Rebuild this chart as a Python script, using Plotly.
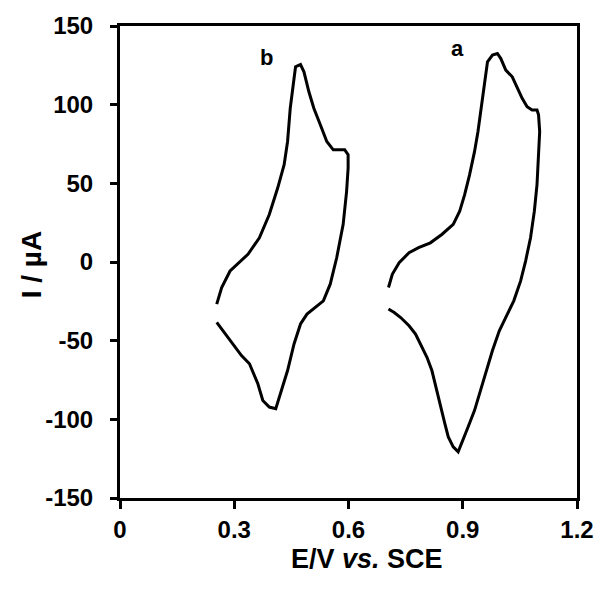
import plotly.graph_objects as go

# Curve b (scan 0.25 -> 0.60 V)
b_E = [0.254, 0.267, 0.289, 0.336, 0.366, 0.392, 0.414, 0.431, 0.440, 0.447, 0.457, 0.461,
       0.474, 0.483, 0.496, 0.509, 0.526, 0.543, 0.560, 0.590, 0.599, 0.599, 0.595, 0.586,
       0.569, 0.552, 0.534, 0.491, 0.474, 0.457, 0.440, 0.422, 0.409, 0.392, 0.375, 0.362,
       0.340, 0.319, 0.284, 0.254]
b_I = [-26.8, -16.2, -5.7, 4.9, 15.4, 30.2, 47.0, 61.8, 76.6, 97.7, 116.6, 124.1,
       125.5, 120.9, 108.2, 97.7, 87.2, 76.6, 71.3, 71.3, 68.2, 59.7, 44.9, 23.9,
       2.7, -14.1, -24.7, -33.1, -39.4, -52.1, -69.0, -83.7, -93.2, -92.2, -88.0, -77.4,
       -64.7, -59.5, -47.9, -38.4]

# Curve a (scan 0.70 -> 1.10 V)
a_E = [0.705, 0.715, 0.733, 0.759, 0.784, 0.815, 0.845, 0.875, 0.892, 0.905, 0.918, 0.931,
       0.940, 0.948, 0.957, 0.965, 0.978, 0.991, 1.000, 1.013, 1.030, 1.043, 1.056, 1.069,
       1.082, 1.095, 1.099, 1.102, 1.099, 1.095, 1.088, 1.078, 1.065, 1.052, 1.034, 1.013,
       0.996, 0.978, 0.965, 0.948, 0.931, 0.914, 0.901, 0.888, 0.875, 0.862, 0.853, 0.840,
       0.832, 0.819, 0.806, 0.793, 0.776, 0.759, 0.737, 0.720, 0.705]
a_I = [-16.2, -7.8, -0.4, 5.9, 9.1, 12.2, 17.5, 23.9, 32.3, 42.8, 55.5, 70.3,
       82.9, 97.7, 112.5, 127.2, 131.5, 132.5, 129.3, 122.0, 117.7, 110.3, 104.0, 98.7,
       96.6, 96.6, 93.5, 82.9, 66.0, 49.2, 32.3, 15.4, 0.6, -12.0, -24.7, -35.3,
       -43.7, -56.3, -66.9, -81.6, -94.3, -104.9, -113.3, -120.7, -117.5, -111.2, -102.7, -90.1,
       -81.6, -69.0, -60.6, -54.2, -45.8, -40.5, -35.3, -32.1, -29.9]

x_ticks = [0, 0.3, 0.6, 0.9, 1.2]
x_ticktext = ["0", "0.3", "0.6", "0.9", "1.2"]
y_ticks = [-150, -100, -50, 0, 50, 100, 150]
y_ticktext = ["-150", "-100", "-50", "0", "50", "100", "150"]

curve_labels = ["b", "a"]
label_E = [0.385, 0.886]
label_I = [129.7, 135.6]

sans = "Liberation Sans, Arial, sans-serif"

fig = go.Figure()
fig.add_trace(go.Scatter(x=b_E, y=b_I, mode="lines",
                         line=dict(color="black", width=3), showlegend=False))
fig.add_trace(go.Scatter(x=a_E, y=a_I, mode="lines",
                         line=dict(color="black", width=3), showlegend=False))

for t, xe, yi in zip(curve_labels, label_E, label_I):
    fig.add_annotation(x=xe, y=yi, text="<b>%s</b>" % t, showarrow=False,
                       font=dict(family=sans, size=22, color="black"))

fig.add_annotation(xref="paper", yref="paper", x=0.54, y=-0.166,
                   text="<b>E/V <i>vs.</i> SCE</b>", showarrow=False,
                   font=dict(family=sans, size=27, color="black"))
fig.add_annotation(xref="paper", yref="paper", x=-0.232, y=0.494, textangle=-90,
                   text="<b>I / µA</b>", showarrow=False,
                   font=dict(family=sans, size=28, color="black"))

axis_common = dict(showgrid=False, zeroline=False, showline=True, linecolor="black",
                   linewidth=3, mirror=True, ticks="outside", tickcolor="black",
                   tickwidth=3, color="black")

fig.update_xaxes(range=[0, 1.2], tickvals=x_ticks, ticktext=x_ticktext, ticklen=8,
                 tickfont=dict(family=sans, size=24, color="black", weight="bold"),
                 ticklabelstandoff=0, **axis_common)
fig.update_yaxes(range=[-150, 150], tickvals=y_ticks, ticktext=y_ticktext, ticklen=7,
                 tickfont=dict(family=sans, size=24, color="black", weight="bold"),
                 ticklabelstandoff=12, **axis_common)

fig.update_layout(width=606, height=602, plot_bgcolor="white", paper_bgcolor="white",
                  margin=dict(l=120, r=22, t=24, b=104))

fig.write_html("out.html")
